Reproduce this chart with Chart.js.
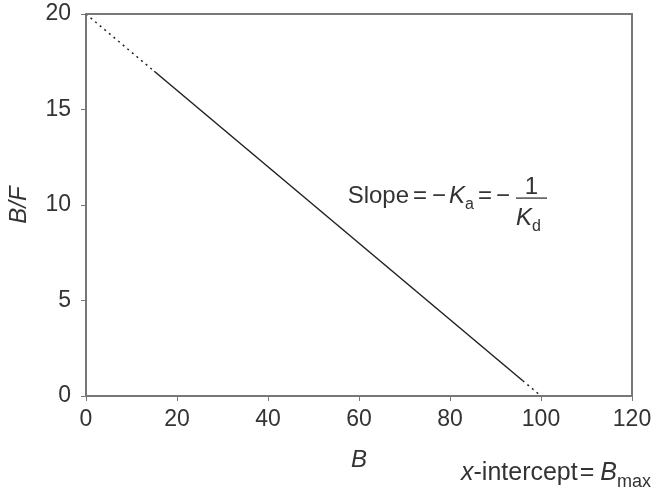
<!DOCTYPE html>
<html>
<head>
<meta charset="utf-8">
<script src="https://cdn.jsdelivr.net/npm/chart.js@4.4.1/dist/chart.umd.min.js"></script>
<style>
  html, body { margin: 0; padding: 0; background: #fff; }
  #wrap { width: 654px; height: 495px; }
</style>
</head>
<body>
<div id="wrap"><canvas id="scatchard"></canvas></div>
<script>
// Scatchard plot: B/F against B
var lineB = [0, 15, 96, 100];
var lineBF = [20, 17, 0.8, 0];
var solidFrom = 1; // segment 1 -> 2 is solid, the ends are dotted
var xTicks = [0, 20, 40, 60, 80, 100, 120];
var yTicks = [0, 5, 10, 15, 20];

var ink = '#333';
var axisGrey = '#777';
var family = '"Liberation Sans", Arial, Helvetica, sans-serif';

var points = [];
for (var i in lineB) {
    points.push({x: lineB[i], y: lineBF[i]});
}

function setFont(ctx, p) {
    ctx.font = (p.italic ? 'italic ' : '') + p.size + 'px ' + family;
}

// write text pieces one after another (italic, subscripts), returns end x
function drawRun(ctx, x, y, parts) {
    for (var k in parts) {
        var p = parts[k];
        x += p.gap || 0;
        setFont(ctx, p);
        ctx.fillText(p.t, x, y + (p.dy || 0));
        x += ctx.measureText(p.t).width;
    }
    return x;
}

var notes = {
    id: 'notes',
    afterDraw: function(chart) {
        var ctx = chart.ctx;
        var a = chart.chartArea;
        var xs = chart.scales.x, ys = chart.scales.y;
        ctx.save();
        // box around the plot
        ctx.strokeStyle = axisGrey;
        ctx.lineWidth = 2;
        ctx.beginPath();
        ctx.moveTo(a.left, a.top);
        ctx.lineTo(a.right, a.top);
        ctx.lineTo(a.right, a.bottom);
        ctx.stroke();

        ctx.fillStyle = ink;
        ctx.textBaseline = 'alphabetic';
        ctx.textAlign = 'left';

        // Slope = -Ka = -1/Kd
        var sx = xs.getPixelForValue(57.5);
        var sy = ys.getPixelForValue(10.1);
        var end = drawRun(ctx, sx, sy, [
            {t: 'Slope', size: 24},
            {t: '=', gap: 4, size: 24},
            {t: '\u2212', gap: 5, size: 24},
            {t: 'K', gap: 3, size: 24, italic: true},
            {t: 'a', gap: 0, dy: 6, size: 16},
            {t: '=', gap: 4, size: 24},
            {t: '\u2212', gap: 4, size: 24}
        ]);
        var fx = end + 6, fw = 31;
        ctx.strokeStyle = ink;
        ctx.lineWidth = 1.3;
        ctx.beginPath();
        ctx.moveTo(fx, sy - 5);
        ctx.lineTo(fx + fw, sy - 5);
        ctx.stroke();
        ctx.textAlign = 'center';
        setFont(ctx, {size: 24});
        ctx.fillText('1', fx + fw / 2, sy - 9);
        ctx.textAlign = 'left';
        drawRun(ctx, fx, sy + 22, [
            {t: 'K', size: 24, italic: true},
            {t: 'd', gap: 0, dy: 6, size: 16}
        ]);

        // x-intercept = Bmax
        drawRun(ctx, 461, 480, [
            {t: 'x', size: 25, italic: true},
            {t: '-intercept', size: 25},
            {t: '=', gap: 2, size: 25},
            {t: 'B', gap: 6, size: 25, italic: true},
            {t: 'max', gap: 0, dy: 7, size: 18}
        ]);
        ctx.restore();
    }
};

var ctx = document.getElementById('scatchard');

var scatchardChart = new Chart(ctx, {
    type: 'scatter',
    data: {
        datasets: [
            {
                data: points,
                showLine: true,
                borderColor: '#222',
                borderWidth: 1.5,
                pointRadius: 0,
                segment: {
                    borderDash: function(c) {
                        return c.p0DataIndex === solidFrom ? [] : [2, 4];
                    }
                }
            }
        ]
    },
    options: {
        responsive: true,
        maintainAspectRatio: false,
        animation: false,
        layout: {padding: {left: 0, top: 14, right: 22, bottom: 0}},
        plugins: {legend: {display: false}, tooltip: {enabled: false}},
        scales: {
            x: {
                type: 'linear',
                min: 0,
                max: 120,
                afterFit: function(s) {
                    s.height = 99;
                    s.paddingLeft = 0;
                    s.paddingRight = 0;
                },
                afterBuildTicks: function(s) {
                    s.ticks = xTicks.map(function(v) { return {value: v}; });
                },
                grid: {drawOnChartArea: false, drawTicks: true, tickLength: 5, color: axisGrey},
                border: {color: axisGrey, width: 2},
                ticks: {color: ink, padding: 5, font: {family: family, size: 23}},
                title: {
                    display: true, text: 'B', color: ink,
                    font: {family: family, size: 24, style: 'italic'},
                    padding: {top: 0, bottom: 20}
                }
            },
            y: {
                type: 'linear',
                min: 0,
                max: 20,
                afterFit: function(s) {
                    s.width = 86;
                    s.paddingTop = 0;
                    s.paddingBottom = 0;
                },
                afterBuildTicks: function(s) {
                    s.ticks = yTicks.map(function(v) { return {value: v}; });
                },
                grid: {drawOnChartArea: false, drawTicks: true, tickLength: 5, color: axisGrey},
                border: {color: axisGrey, width: 2},
                ticks: {color: ink, padding: 10, font: {family: family, size: 23}},
                title: {
                    display: true, text: 'B/F', color: ink,
                    font: {family: family, size: 24, style: 'italic'},
                    padding: {top: 5, bottom: 0}
                }
            }
        }
    },
    plugins: [notes]
});
</script>
</body>
</html>
